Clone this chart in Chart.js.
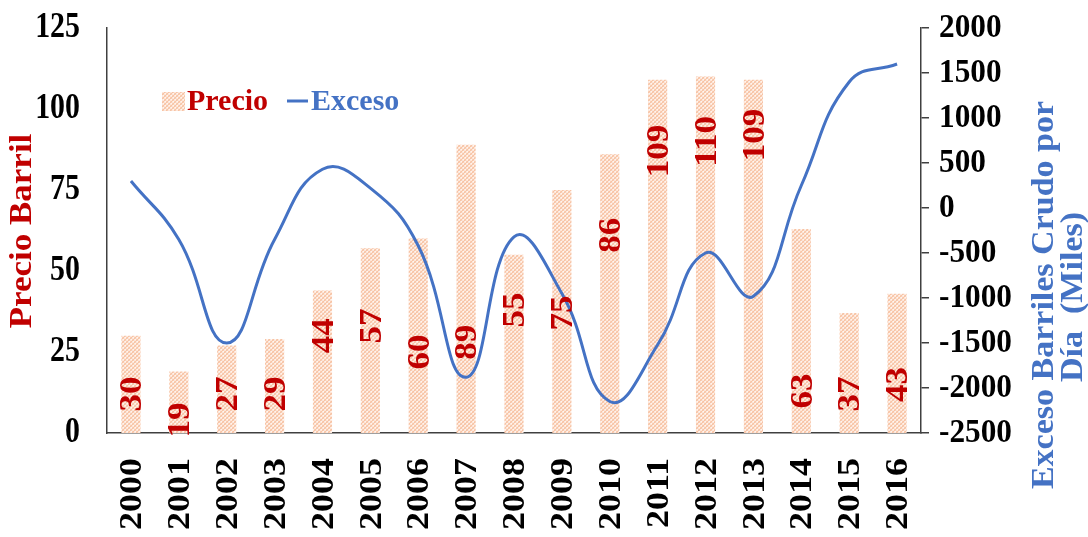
<!DOCTYPE html>
<html lang="es">
<head>
<meta charset="utf-8">
<title>Precio Barril vs Exceso</title>
<script src="https://cdn.jsdelivr.net/npm/chart.js@4.4.0/dist/chart.umd.min.js"></script>
<style>
    html, body { margin: 0; padding: 0; background: #fff; }
    #grafico { display: block; }
</style>
</head>
<body>
<canvas id="grafico" width="1088" height="537"></canvas>
<script>
// Datos por año
const anios = ['2000', '2001', '2002', '2003', '2004', '2005', '2006', '2007', '2008',
               '2009', '2010', '2011', '2012', '2013', '2014', '2015', '2016'];
const precio = [30, 19, 27, 29, 44, 57, 60, 89, 55, 75, 86, 109, 110, 109, 63, 37, 43];
const exceso = [300, -350, -1500, -350, 430, 220, -420, -1880, -320, -950,
                -2150, -1520, -500, -980, 250, 1400, 1600];
// altura (en dólares) donde va centrada cada etiqueta de precio
const posEtiqueta = [12, 4, 12, 12, 30, 33, 25, 28, 38, 37, 61, 87, 90, 92, 13, 12, 15];
const ticksPrecio = [0, 25, 50, 75, 100, 125];
const ticksExceso = [-2500, -2000, -1500, -1000, -500, 0, 500, 1000, 1500, 2000];

const ROJO = '#C00000';
const AZUL = '#4472C4';
const EJE = '#404040';
const FUENTE = '"Liberation Serif", "DejaVu Serif", serif';

class GraficoPetroleo {
    constructor(id) {
        this.canvas = document.getElementById(id);
        this.ctx = this.canvas.getContext('2d');
        this.trama = this.crearTrama();
        this.init();
    }

    // trama punteada naranja claro de las barras
    crearTrama() {
        const c = document.createElement('canvas');
        c.width = 4;
        c.height = 4;
        const g = c.getContext('2d');
        g.fillStyle = '#fde6d9';
        g.fillRect(0, 0, 4, 4);
        g.fillStyle = '#f7c3a4';
        [[0, 0], [2, 0], [1, 1], [3, 1], [0, 2], [2, 2], [1, 3], [3, 3]].forEach(([x, y]) => {
            if ((x + y) % 4 === 0) g.fillRect(x, y, 1, 1);
        });
        g.fillStyle = '#f9cfb6';
        [[1, 0], [3, 2], [0, 3], [2, 1]].forEach(([x, y]) => g.fillRect(x, y, 1, 1));
        g.fillStyle = '#fff6f0';
        g.fillRect(1, 1, 1, 1);
        g.fillRect(3, 3, 1, 1);
        return this.ctx.createPattern(c, 'repeat');
    }

    texto(str, x, y, o) {
        const ctx = this.ctx;
        ctx.save();
        ctx.translate(x, y);
        ctx.scale(o.esc || 1, 1);
        ctx.rotate(o.rot || 0);
        ctx.font = `bold ${o.size}px ${FUENTE}`;
        ctx.fillStyle = o.color || '#000';
        ctx.textAlign = o.align || 'center';
        ctx.textBaseline = 'middle';
        ctx.fillText(str, 0, 0);
        ctx.restore();
    }

    init() {
        const app = this;
        const rot = -Math.PI / 2;

        const etiquetas = {
            id: 'etiquetas',
            afterDatasetsDraw(chart) {
                const meta = chart.getDatasetMeta(1);
                const y = chart.scales.y;
                // los dígitos quedan algo corridos a la izquierda al girarlos
                meta.data.forEach((bar, i) => {
                    app.texto(String(precio[i]), bar.x + 2, y.getPixelForValue(posEtiqueta[i]),
                        { size: 35, color: ROJO, rot, esc: 0.92 });
                });
            },
            afterDraw(chart) {
                const { x, y, y1 } = chart.scales;

                ticksPrecio.forEach(v => {
                    app.texto(String(v), 80, y.getPixelForValue(v), { size: 36, align: 'right', esc: 0.83 });
                });
                ticksExceso.forEach(v => {
                    app.texto(String(v), y1.right + 10, y1.getPixelForValue(v), { size: 34, align: 'left', esc: 0.92 });
                });
                anios.forEach((a, i) => {
                    app.texto(a, x.getPixelForValue(i) + 2, y.bottom + 25, { size: 36, align: 'right', rot, esc: 0.88 });
                });

                // títulos de los ejes
                app.texto('Precio Barril', 23, 231, { size: 35, color: ROJO, rot, esc: 0.9 });
                app.texto('Exceso Barriles Crudo por', 1045, 295, { size: 34, color: AZUL, rot, esc: 0.9 });
                app.texto('Día  (Miles)', 1074, 297, { size: 34, color: AZUL, rot, esc: 0.9 });

                // leyenda
                const ctx = chart.ctx;
                ctx.save();
                ctx.fillStyle = app.trama;
                ctx.fillRect(162, 92, 23, 19);
                ctx.strokeStyle = AZUL;
                ctx.lineWidth = 3;
                ctx.beginPath();
                ctx.moveTo(287, 101);
                ctx.lineTo(308, 101);
                ctx.stroke();
                ctx.restore();
                app.texto('Precio', 187, 102, { size: 30, color: ROJO, align: 'left' });
                app.texto('Exceso', 311, 102, { size: 30, color: AZUL, align: 'left' });
            }
        };

        const borde = { display: true, color: EJE, width: 1.5 };

        this.chart = new Chart(this.ctx, {
            type: 'bar',
            data: {
                labels: anios,
                datasets: [{
                    type: 'line',
                    label: 'Exceso',
                    data: exceso,
                    yAxisID: 'y1',
                    borderColor: AZUL,
                    borderWidth: 3,
                    tension: 0.45,
                    pointRadius: 0,
                    fill: false,
                    order: 0
                }, {
                    type: 'bar',
                    label: 'Precio',
                    data: precio,
                    yAxisID: 'y',
                    backgroundColor: this.trama,
                    barPercentage: 0.4,
                    categoryPercentage: 1,
                    order: 1
                }]
            },
            options: {
                responsive: false,
                animation: false,
                devicePixelRatio: 1,
                layout: { padding: { left: 107, right: 159, top: 28, bottom: 104 } },
                plugins: {
                    legend: { display: false },
                    tooltip: { enabled: false }
                },
                scales: {
                    x: {
                        grid: { display: false, drawTicks: false },
                        ticks: { display: false },
                        border: borde
                    },
                    y: {
                        position: 'left',
                        min: ticksPrecio[0],
                        max: ticksPrecio[ticksPrecio.length - 1],
                        ticks: { display: false, stepSize: 25 },
                        grid: { display: false, drawTicks: false },
                        border: borde
                    },
                    y1: {
                        position: 'right',
                        min: ticksExceso[0],
                        max: ticksExceso[ticksExceso.length - 1],
                        ticks: { display: false, stepSize: 500 },
                        grid: {
                            display: true,
                            drawOnChartArea: false,
                            drawTicks: true,
                            tickLength: 8,
                            color: EJE,
                            lineWidth: 1.5
                        },
                        border: borde
                    }
                }
            },
            plugins: [etiquetas]
        });
    }
}

window.addEventListener('DOMContentLoaded', () => {
    new GraficoPetroleo('grafico');
});
</script>
</body>
</html>
